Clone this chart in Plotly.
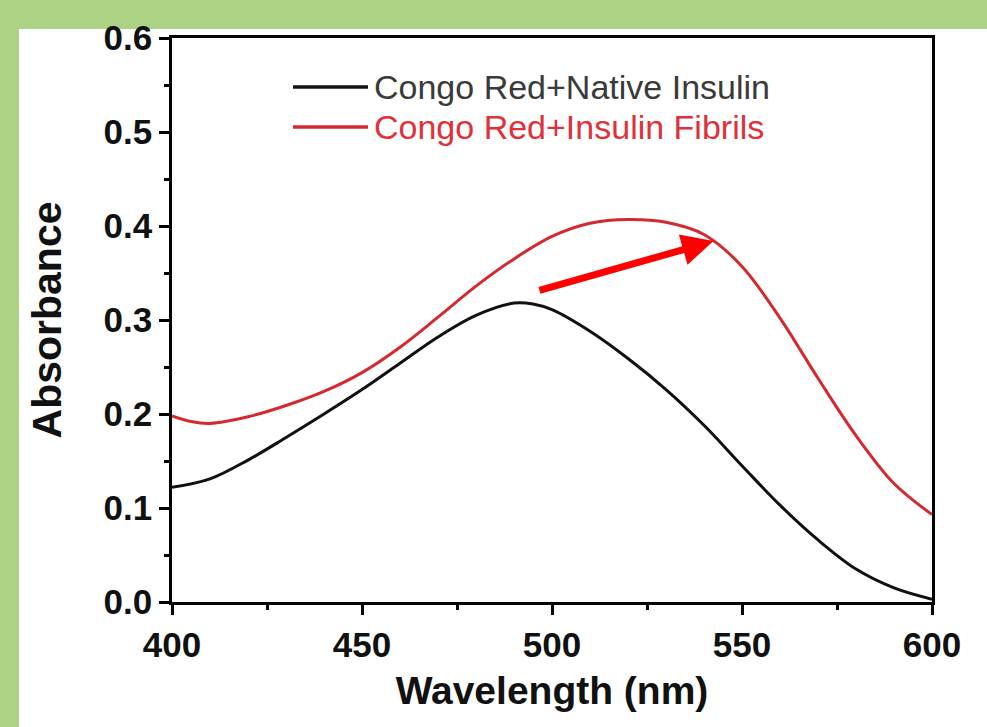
import plotly.graph_objects as go

# ---- data ----
wl_native = [400, 410, 420, 430, 440, 450, 460, 470, 480, 490, 495, 500, 510, 520, 530, 540, 550, 560, 570, 580, 590, 600]
abs_native = [0.122, 0.131, 0.151, 0.175, 0.200, 0.226, 0.254, 0.282, 0.305, 0.318, 0.317, 0.311, 0.288, 0.259, 0.226, 0.188, 0.145, 0.103, 0.066, 0.035, 0.015, 0.003]

wl_fibril = [400, 405, 410, 420, 430, 440, 450, 460, 470, 480, 490, 500, 510, 520, 530, 540, 550, 560, 570, 580, 590, 600]
abs_fibril = [0.198, 0.192, 0.190, 0.197, 0.209, 0.224, 0.244, 0.271, 0.303, 0.336, 0.365, 0.389, 0.403, 0.407, 0.404, 0.391, 0.357, 0.302, 0.238, 0.177, 0.126, 0.093]

series_names = ["Congo Red+Native Insulin", "Congo Red+Insulin Fibrils"]
series_colors = ["#111111", "#d42a2f"]
legend_text_colors = ["#3a3a3a", "#e0303a"]

x_ticks = [400, 450, 500, 550, 600]
y_ticks = [0.0, 0.1, 0.2, 0.3, 0.4, 0.5, 0.6]
y_tick_labels = ["0.0", "0.1", "0.2", "0.3", "0.4", "0.5", "0.6"]

arrow_tail = (496.3, 0.331)
arrow_head = (542.5, 0.384)

FONT = "Liberation Sans, Arial, sans-serif"

fig = go.Figure()
for wl, ab, name, col in [(wl_native, abs_native, series_names[0], series_colors[0]),
                          (wl_fibril, abs_fibril, series_names[1], series_colors[1])]:
    fig.add_trace(go.Scatter(x=wl, y=ab, mode="lines", name=name,
                             line=dict(color=col, width=3, shape="spline", smoothing=1.0),
                             showlegend=False))

# page background: green frame with white panel
shapes = [dict(type="rect", xref="paper", yref="paper",
               x0=(19 - 172) / 760, x1=(1000 - 172) / 760,
               y0=(602 - 740) / 564, y1=(602 - 29) / 564,
               fillcolor="white", line=dict(width=0), layer="below")]

# manual legend
leg_y = [(602 - 87) / 564, (602 - 127) / 564]
annotations = []
for i in range(2):
    shapes.append(dict(type="line", xref="paper", yref="paper",
                       x0=(293 - 172) / 760, x1=(368 - 172) / 760,
                       y0=leg_y[i], y1=leg_y[i],
                       line=dict(color=series_colors[i], width=3.5)))
    annotations.append(dict(xref="paper", yref="paper", x=(372 - 172) / 760, y=leg_y[i],
                            xanchor="left", yanchor="middle", showarrow=False,
                            text=series_names[i],
                            font=dict(family=FONT, size=34, color=legend_text_colors[i])))

annotations.append(dict(x=arrow_head[0], y=arrow_head[1], ax=arrow_tail[0], ay=arrow_tail[1],
                        xref="x", yref="y", axref="x", ayref="y", text="",
                        showarrow=True, arrowhead=2, arrowsize=0.9, arrowwidth=7,
                        arrowcolor="#ff0000"))

axis_common = dict(showline=True, linecolor="black", linewidth=2.5, mirror=True,
                   ticks="outside", ticklen=10, tickwidth=2.5, tickcolor="black",
                   showgrid=False, zeroline=False,
                   tickfont=dict(family=FONT, size=35, color="#111111", weight="bold"))

fig.update_layout(
    width=987, height=727,
    margin=dict(l=172, r=55, t=38, b=125, pad=0),
    paper_bgcolor="#acd283", plot_bgcolor="white",
    shapes=shapes, annotations=annotations,
    xaxis=dict(range=[400, 600], tickvals=x_ticks,
               minor=dict(ticks="outside", ticklen=5, tickwidth=2.5, tickcolor="black", dtick=25, tick0=400),
               title=dict(text="Wavelength (nm)", standoff=14,
                          font=dict(family=FONT, size=39, color="#111111", weight="bold")),
               **axis_common),
    yaxis=dict(range=[0, 0.6], tickvals=y_ticks, ticktext=y_tick_labels,
               minor=dict(ticks="outside", ticklen=5, tickwidth=2.5, tickcolor="black", dtick=0.05, tick0=0),
               title=dict(text="Absorbance", standoff=30,
                          font=dict(family=FONT, size=41, color="#111111", weight="bold")),
               **axis_common),
)

fig.write_html("out.html")
